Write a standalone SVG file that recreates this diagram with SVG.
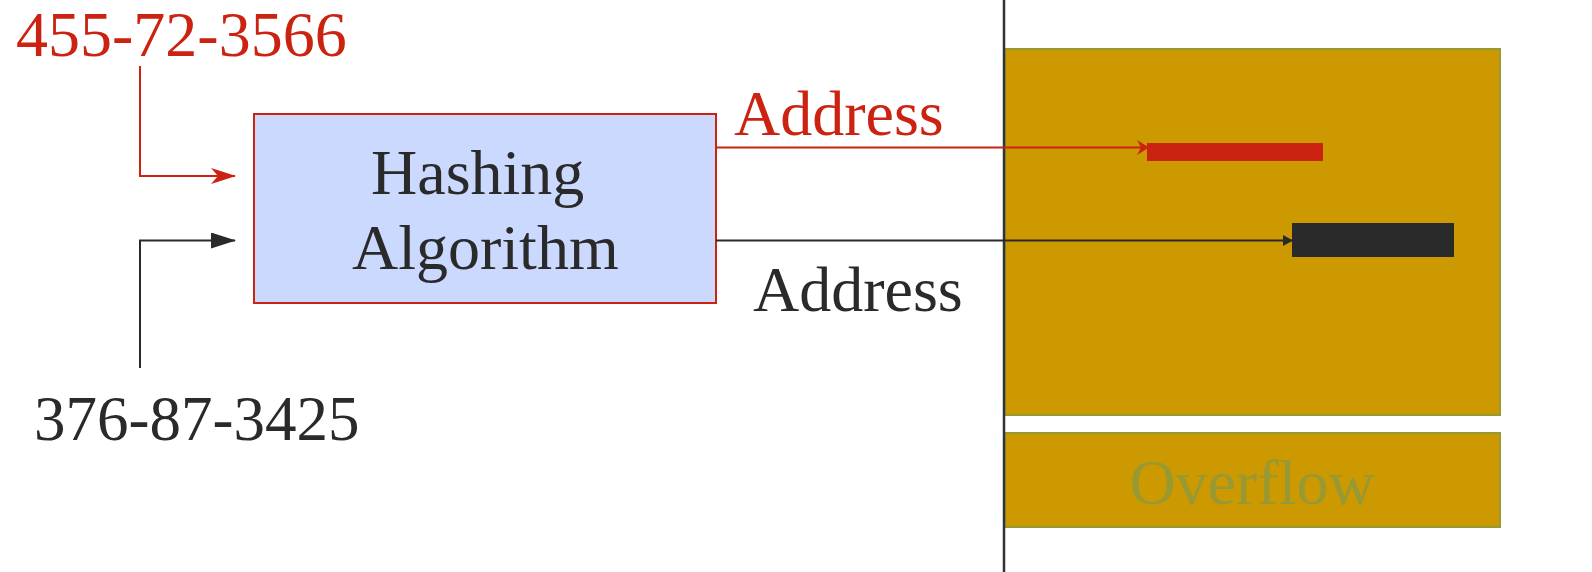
<svg xmlns="http://www.w3.org/2000/svg" width="1592" height="572" viewBox="0 0 1592 572">
  <style>
    text { font-family: "Liberation Serif", "Times New Roman", serif; font-size: 64px; }
    .red { fill: #cc2211; }
    .dark { fill: #2a2a2a; }
    .olive { fill: #999933; }
    .wire-red { fill: none; stroke: #cc2211; stroke-width: 2; }
    .wire-dark { fill: none; stroke: #2a2a2a; stroke-width: 2; }
    .bucket { fill: #cc9900; stroke: #999933; stroke-width: 2; }
  </style>
  <defs>
    <marker id="stealthRed" viewBox="0 -8 25 16" markerWidth="25" markerHeight="16" refX="24" refY="0" orient="auto" markerUnits="userSpaceOnUse">
      <path d="M0,-8 L25,0 L0,8 L7,0 z" fill="#cc2211"/>
    </marker>
    <marker id="triDark" viewBox="0 -8 25 16" markerWidth="25" markerHeight="16" refX="24" refY="0" orient="auto" markerUnits="userSpaceOnUse">
      <path d="M0,-8 L25,0 L0,8 z" fill="#2a2a2a"/>
    </marker>
    <marker id="stealthRedSmall" viewBox="0 -7.5 12 15" markerWidth="12" markerHeight="15" refX="11" refY="0" orient="auto" markerUnits="userSpaceOnUse">
      <path d="M0,-7.5 L12,0 L0,7.5 L4,0 z" fill="#cc2211"/>
    </marker>
    <marker id="triDarkSmall" viewBox="0 -5.5 10 11" markerWidth="10" markerHeight="11" refX="9" refY="0" orient="auto" markerUnits="userSpaceOnUse">
      <path d="M0,-5.5 L10,0 L0,5.5 z" fill="#2a2a2a"/>
    </marker>
  </defs>

  <!-- hash table storage area -->
  <g id="table">
    <rect class="bucket" x="1005" y="49" width="495" height="366"/>
    <rect x="1147" y="143" width="176" height="18" fill="#cc2211"/>
    <rect x="1292" y="223" width="162" height="34" fill="#2a2a2a"/>
  </g>

  <g id="overflow">
    <rect class="bucket" x="1005" y="433" width="495" height="94"/>
    <text class="olive" x="1252" y="504" text-anchor="middle">Overflow</text>
  </g>

  <!-- divider between algorithm and storage -->
  <line x1="1004" y1="0" x2="1004" y2="572" stroke="#333333" stroke-width="2.5"/>

  <g id="key-red">
    <text class="red" x="16" y="56">455-72-3566</text>
  </g>

  <g id="key-dark">
    <text class="dark" x="34" y="440" style="font-size:63px">376-87-3425</text>
  </g>

  <g id="hashing">
    <rect x="254" y="114" width="462" height="189" fill="#ccd9ff" stroke="#cc2211" stroke-width="2"/>
    <text class="dark" x="371" y="194">Hashing</text>
    <text class="dark" x="352" y="269">Algorithm</text>
  </g>

  <g id="connectors">
    <polyline class="wire-red" points="140,66 140,176 235,176" marker-end="url(#stealthRed)"/>
    <polyline class="wire-dark" points="140,368 140,240.5 235,240.5" marker-end="url(#triDark)"/>
    <line class="wire-red" x1="716" y1="147.5" x2="1148" y2="147.5" marker-end="url(#stealthRedSmall)"/>
    <line class="wire-dark" x1="716" y1="240.5" x2="1292" y2="240.5" marker-end="url(#triDarkSmall)"/>
    <text class="red" x="734" y="135">Address</text>
    <text class="dark" x="753" y="311">Address</text>
  </g>
</svg>
